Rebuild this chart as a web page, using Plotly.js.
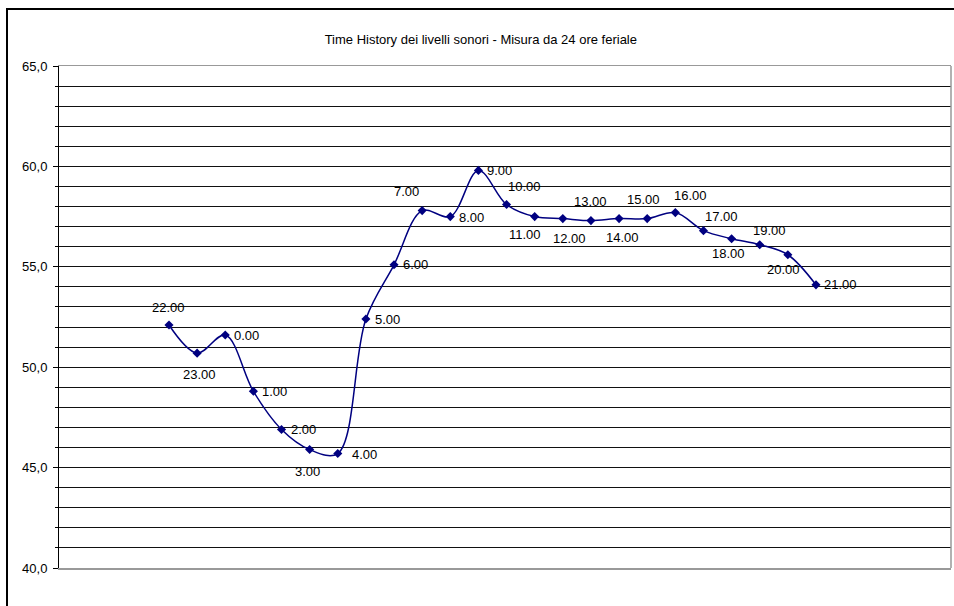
<!DOCTYPE html>
<html>
<head>
<meta charset="utf-8">
<script src="https://cdn.plot.ly/plotly-3.0.1.min.js"></script>
<style>
html,body{margin:0;padding:0;background:#fff;}
#chart{width:954px;height:606px;}
</style>
</head>
<body>
<div id="chart"></div>
<script>
// ---- data ----
var hours = ['22.00','23.00','0.00','1.00','2.00','3.00','4.00','5.00','6.00','7.00','8.00','9.00',
             '10.00','11.00','12.00','13.00','14.00','15.00','16.00','17.00','18.00','19.00','20.00','21.00'];
var levels = [52.1, 50.7, 51.6, 48.8, 46.9, 45.9, 45.7, 52.4, 55.1, 57.8, 57.5, 59.8,
              58.1, 57.5, 57.4, 57.3, 57.4, 57.4, 57.7, 56.8, 56.4, 56.1, 55.6, 54.1];
var chartTitle = 'Time History dei livelli sonori - Misura da 24 ore feriale';

// ---- label placement (style only: pixel offsets of each data label from its point) ----
var labelDX = [0, 2, 21, 21.5, 21.5, -2, 27, 21.3, 21.2, -15.2, 21.2, 21.4,
               18.3, -9.8, 6.5, 0, 3, -4, 15.5, 18.4, -3, 9.5, -4, 25];
var labelDY = [-17.4, 21, 0, 0, 0, 21.7, 1.3, 0, 0, -19.3, 0.7, 0,
               -18.3, 17.7, 20, -19.3, 19, -19, -16.6, -14.3, 15, -14.6, 14.3, 0];

var FONT = 'Arial, "Liberation Sans", sans-serif';

var trace = {
  x: hours,
  y: levels,
  type: 'scatter',
  mode: 'lines+markers',
  line: {color: '#000080', width: 1.5, shape: 'spline', smoothing: 1},
  marker: {symbol: 'diamond', size: 7, color: '#000080'},
  hoverinfo: 'x+y',
  cliponaxis: false
};

// category index positions so numeric-looking labels are not read as numbers
var annotations = hours.map(function (h, i) {
  return {
    x: i, y: levels[i], xref: 'x', yref: 'y',
    text: h, showarrow: false,
    xanchor: 'center', yanchor: 'middle',
    xshift: labelDX[i], yshift: -labelDY[i],
    font: {family: FONT, size: 13, color: '#000'}
  };
});

var layout = {
  width: 954, height: 606,
  margin: {l: 59, r: 3, t: 66, b: 38, pad: 0},
  paper_bgcolor: '#fff', plot_bgcolor: '#fff',
  showlegend: false,
  separators: ',.',
  font: {family: FONT, size: 13, color: '#000'},
  title: {
    text: chartTitle,
    font: {family: FONT, size: 13, color: '#000'},
    x: 0.504, xref: 'container', xanchor: 'center',
    y: 1 - 39.5 / 606, yref: 'container', yanchor: 'middle'
  },
  xaxis: {
    type: 'category',
    range: [-3.91, 27.8],
    showticklabels: false, ticks: '',
    showgrid: false, zeroline: false,
    showline: true, linecolor: '#999', linewidth: 1.5, mirror: true,
    fixedrange: true
  },
  yaxis: {
    range: [40, 65],
    dtick: 5, tick0: 40,
    tickformat: '.1f',
    ticks: 'outside', ticklen: 5, tickcolor: '#000', tickwidth: 1,
    ticklabelstandoff: 3,
    showgrid: true, gridcolor: '#111', gridwidth: 1,
    minor: {dtick: 1, showgrid: true, gridcolor: '#111', gridwidth: 1,
            ticks: 'outside', ticklen: 3, tickcolor: '#000'},
    zeroline: false,
    showline: true, linecolor: '#000', linewidth: 1,
    tickfont: {family: FONT, size: 13, color: '#000'},
    fixedrange: true
  },
  annotations: annotations,
  shapes: [
    // grey right edge of plot area
    {type: 'line', xref: 'paper', yref: 'paper', x0: 1, x1: 1, y0: 0, y1: 1,
     line: {color: '#999', width: 1.5}},
    // outer chart frame (left and top edges visible in the crop)
    {type: 'path', xref: 'paper', yref: 'paper',
     path: 'M ' + ((7 - 59) / 892) + ',' + ((568 - 620) / 502) +
           ' L ' + ((7 - 59) / 892) + ',' + ((568 - 9) / 502) +
           ' L ' + ((970 - 59) / 892) + ',' + ((568 - 9) / 502),
     line: {color: '#000', width: 2}}
  ]
};

Plotly.newPlot('chart', [trace], layout, {displayModeBar: false, staticPlot: true});
</script>
</body>
</html>
